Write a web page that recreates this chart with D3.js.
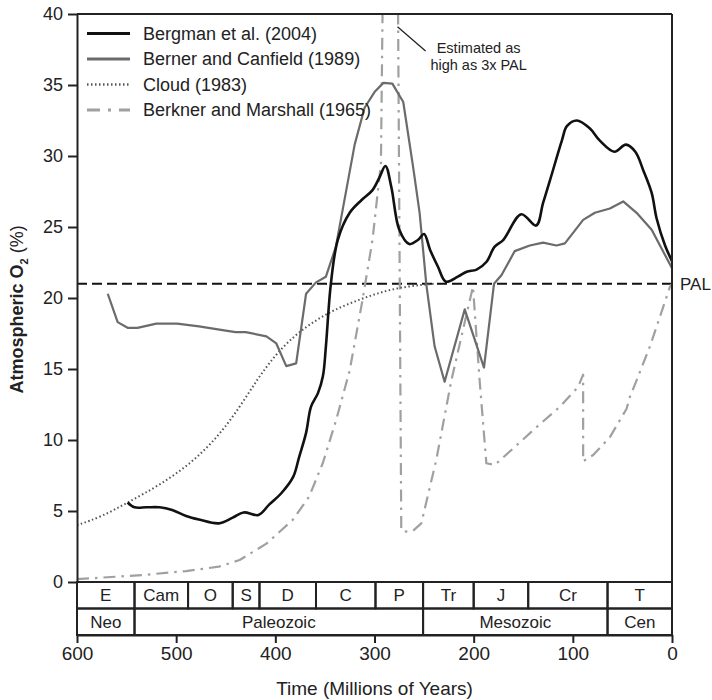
<!DOCTYPE html>
<html>
<head>
<meta charset="utf-8">
<script src="https://cdn.jsdelivr.net/npm/d3@7"></script>
<style>
  body { margin: 0; background: #fff; }
  text { font-family: "Liberation Sans", Arial, sans-serif; fill: #222; }
</style>
</head>
<body>
<div id="chart-area"></div>
<script>
// data: [age in Ma, O2 %]
var bergman = [[549,5.6],[542,5.26],[530,5.26],[517,5.26],[504,5.07],[490,4.65],[477,4.4],[457,4.13],
  [443,4.53],[432,4.9],[417,4.72],[406,5.47],[394,6.25],[382,7.4],[376,8.8],[369,10.5],[364,12.35],
  [357,13.3],[352,14.5],[349,16.6],[344,21.0],[337,24.1],[325,26.0],[313,26.9],[302,27.6],[295,28.5],
  [289,29.3],[283,27.8],[275,24.8],[265,23.8],[256,24.1],[250,24.5],[244,23.4],[236,22.2],[228,21.15],
  [216,21.5],[207,21.85],[197,22.0],[187,22.55],[179,23.6],[170,24.1],[152,25.9],[137,25.1],[130,26.7],
  [123,28.3],[111,31.1],[106,32.1],[96,32.5],[83,31.95],[73,31.1],[58,30.3],[46.5,30.8],[37,30.3],
  [29,29.0],[20.5,27.4],[15.5,25.6],[7,23.7],[0,22.6]];

var berner = [[569,20.3],[559,18.3],[549,17.9],[539,17.9],[520,18.2],[499,18.2],[477,18.0],[450,17.7],
  [440,17.6],[430,17.6],[409,17.3],[399,16.8],[389,15.2],[379,15.4],[369,20.3],[359,21.1],[349,21.5],
  [339,23.6],[320,30.8],[310,33.4],[300,34.5],[291,35.15],[282,35.1],[271,33.8],[261,29.2],[254.5,26.0],
  [247.8,21.0],[239.4,16.6],[229.3,14.1],[209,19.2],[189.6,15.1],[179.5,21.0],[172,21.6],[158.6,23.3],
  [143.4,23.7],[130,23.9],[116.5,23.7],[108,23.85],[89.6,25.5],[77.8,26.0],[62.6,26.3],[49.2,26.8],
  [35.7,26.0],[20.5,24.8],[0,22.1]];

var cloud = [[600,4.0],[575,4.6],[549,5.6],[517,6.8],[484,8.4],[457,10.3],[436,12.3],[418,14.3],
  [400,16.0],[380,17.4],[360,18.4],[340,19.2],[315,19.9],[290,20.5],[265,20.85],[240,21.0]];

var berkner = [[600,0.2],[534,0.49],[490,0.77],[457,1.08],[436,1.55],[409,2.7],[382.5,4.37],[366,6.0],
  [352,8.4],[338.7,11.4],[325,14.9],[312,19.9],[302,24.1],[293.5,29.5],[291.6,42],[276.4,42],[273,3.66],
  [269.7,3.55],[261.3,3.6],[252.8,4.13],[237.7,8.6],[222.5,14.2],[200.7,20.8],[194,14.2],[187.2,8.36],
  [178.8,8.24],[160.3,9.4],[136.7,10.9],[113,12.35],[94.6,13.75],[89.6,14.6],[89.6,8.5],[79.5,8.94],
  [62.6,10.2],[45.8,12.2],[42.4,13.05],[35.7,14.2],[22.2,16.6],[2,20.8],[0,21.0]];

var pal = 21;
var yTicks = [0, 5, 10, 15, 20, 25, 30, 35, 40];
var xTicks = [600, 500, 400, 300, 200, 100, 0];

var periodNames = ["E", "Cam", "O", "S", "D", "C", "P", "Tr", "J", "Cr", "T"];
var periodBounds = [600, 542, 488, 443, 416, 359, 299, 251, 200, 145, 65, 0];
var eraNames = ["Neo", "Paleozoic", "Mesozoic", "Cen"];
var eraBounds = [600, 542, 251, 65, 0];

var legendNames = ["Bergman et al. (2004)", "Berner and Canfield (1989)", "Cloud (1983)", "Berkner and Marshall (1965)"];

var margin = { top: 14, right: 40, bottom: 118, left: 77 };
var width = 712 - margin.left - margin.right;
var height = 700 - margin.top - margin.bottom;

var svg = d3.select("#chart-area")
    .append("svg")
    .attr("width", 712)
    .attr("height", 700);

var g = svg.append("g")
    .attr("transform", "translate(" + margin.left + "," + margin.top + ")");

var x = d3.scaleLinear().domain([600, 0]).range([0, width]);
var y = d3.scaleLinear().domain([0, 40]).range([height, 0]);

var styles = [
    { data: bergman, color: "#111", w: 2.6, dash: null, curve: d3.curveCatmullRom },
    { data: berner, color: "#6b6b6b", w: 2.2, dash: null, curve: d3.curveLinear },
    { data: cloud, color: "#555", w: 2, dash: "1.5,2.5", curve: d3.curveBasis },
    { data: berkner, color: "#a0a0a0", w: 2.2, dash: "12,6,2.5,6", curve: d3.curveLinear }
];

svg.append("defs").append("clipPath").attr("id", "plot-clip")
    .append("rect").attr("x", 0).attr("y", 0).attr("width", width).attr("height", height);

// PAL reference
g.append("line")
    .attr("x1", 0).attr("x2", width)
    .attr("y1", y(pal)).attr("y2", y(pal))
    .attr("stroke", "#111").attr("stroke-width", 2)
    .attr("stroke-dasharray", "10,5");

g.append("text")
    .attr("x", width + 8).attr("y", y(pal))
    .attr("dy", "0.35em")
    .style("font-size", "17px")
    .text("PAL");

var series = g.append("g").attr("clip-path", "url(#plot-clip)");

styles.slice().reverse().forEach(s => {
    var line = d3.line().x(d => x(d[0])).y(d => y(d[1])).curve(s.curve);
    series.append("path")
        .datum(s.data)
        .attr("d", line)
        .attr("fill", "none")
        .attr("stroke", s.color)
        .attr("stroke-width", s.w)
        .attr("stroke-dasharray", s.dash)
        .attr("stroke-linejoin", "round");
});

// frame: top and right
g.append("line").attr("x1", 0).attr("x2", width).attr("y1", 0).attr("y2", 0)
    .attr("stroke", "#222").attr("stroke-width", 2);
g.append("line").attr("x1", width).attr("x2", width).attr("y1", 0).attr("y2", height)
    .attr("stroke", "#222").attr("stroke-width", 2);

// y axis
var yAxisGroup = g.append("g").attr("class", "y axis")
    .call(d3.axisLeft(y).tickValues(yTicks).tickSize(9).tickPadding(5).tickSizeOuter(0));
yAxisGroup.selectAll("path, line").attr("stroke", "#222").attr("stroke-width", 2);
yAxisGroup.selectAll("text").style("font-size", "18px").style("font-family", "Liberation Sans, Arial, sans-serif").attr("fill", "#222");

// geologic time boxes
var rowH = 26.5;
var periodRow = g.append("g").attr("transform", "translate(0," + height + ")");
periodNames.forEach((p, i) => {
    var x0 = x(periodBounds[i]), x1 = x(periodBounds[i + 1]);
    periodRow.append("rect").attr("x", x0).attr("y", 0).attr("width", x1 - x0).attr("height", rowH)
        .attr("fill", "none").attr("stroke", "#222").attr("stroke-width", 2);
    periodRow.append("text").attr("x", (x0 + x1) / 2).attr("y", rowH / 2).attr("dy", "0.36em")
        .attr("text-anchor", "middle").style("font-size", "17px").text(p);
});
eraNames.forEach((p, i) => {
    var x0 = x(eraBounds[i]), x1 = x(eraBounds[i + 1]);
    periodRow.append("rect").attr("x", x0).attr("y", rowH).attr("width", x1 - x0).attr("height", rowH)
        .attr("fill", "none").attr("stroke", "#222").attr("stroke-width", 2);
    periodRow.append("text").attr("x", (x0 + x1) / 2).attr("y", rowH * 1.5).attr("dy", "0.36em")
        .attr("text-anchor", "middle").style("font-size", "17px").text(p);
});

// x axis below the boxes
var xAxisGroup = g.append("g").attr("class", "x axis")
    .attr("transform", "translate(0," + (height + rowH * 2) + ")")
    .call(d3.axisBottom(x).tickValues(xTicks).tickSize(8).tickPadding(4).tickSizeOuter(0));
xAxisGroup.selectAll("path, line").attr("stroke", "#222").attr("stroke-width", 2);
xAxisGroup.selectAll("text").style("font-size", "19px").style("font-family", "Liberation Sans, Arial, sans-serif").attr("fill", "#222");

g.append("text")
    .attr("x", width / 2)
    .attr("y", height + 113)
    .attr("text-anchor", "middle")
    .style("font-size", "19px")
    .text("Time (Millions of Years)");

var yLabel = svg.append("text")
    .attr("transform", "translate(23," + (margin.top + y(19.2)) + ") rotate(-90)")
    .attr("text-anchor", "middle")
    .style("font-size", "18px");
yLabel.append("tspan").style("font-weight", "bold").text("Atmospheric O");
yLabel.append("tspan").style("font-weight", "bold").style("font-size", "11px").attr("dy", 5).text("2");
yLabel.append("tspan").attr("dy", -5).text(" (%)");

// legend
var legend = g.append("g").attr("transform", "translate(10,19.5)");
styles.forEach((s, i) => {
    var row = legend.append("g").attr("transform", "translate(0," + (i * 25.5) + ")");
    row.append("line").attr("x1", 0).attr("x2", 43).attr("y1", 0).attr("y2", 0)
        .attr("stroke", s.color).attr("stroke-width", s.w + 0.6)
        .attr("stroke-dasharray", i === 3 ? "13,8,3,8" : s.dash);
    row.append("text").attr("x", 56).attr("dy", "0.35em").style("font-size", "18px").text(legendNames[i]);
});

// annotation
g.append("line")
    .attr("x1", x(276.8)).attr("y1", y(39.1))
    .attr("x2", x(248.5)).attr("y2", y(37.4))
    .attr("stroke", "#222").attr("stroke-width", 1.3);
var note = g.append("text").attr("text-anchor", "middle").style("font-size", "14.5px");
note.append("tspan").attr("x", x(195)).attr("y", 39).text("Estimated as");
note.append("tspan").attr("x", x(195)).attr("y", 56).text("high as 3x PAL");
</script>
</body>
</html>
